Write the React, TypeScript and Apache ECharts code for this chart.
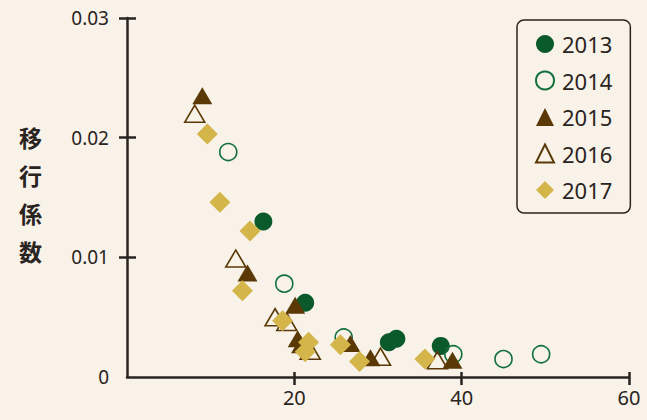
import React, { useEffect, useRef } from "react";
import * as echarts from "echarts";

const seriesNames = ["2013", "2014", "2015", "2016", "2017"];

const data2013: number[][] = [
  [16.3, 0.013], [21.3, 0.0062], [31.3, 0.0029], [32.2, 0.0032], [37.5, 0.0026],
];
const data2014: number[][] = [
  [12.1, 0.0188], [18.8, 0.0078], [25.9, 0.0033], [39.0, 0.0019], [45.0, 0.0015], [49.5, 0.0019],
];
const data2015: number[][] = [
  [9.0, 0.0235], [14.4, 0.0087], [20.1, 0.006], [20.4, 0.0032], [20.8, 0.0027],
  [26.7, 0.0028], [29.1, 0.0016], [38.9, 0.0014],
];
const data2016: number[][] = [
  [8.1, 0.022], [13.0, 0.0099], [17.7, 0.005], [19.1, 0.0046], [21.9, 0.0022],
  [30.3, 0.0017], [37.1, 0.0014],
];
const data2017: number[][] = [
  [9.6, 0.0203], [11.1, 0.0146], [14.7, 0.0122], [13.8, 0.0072], [18.6, 0.0047],
  [21.7, 0.0029], [21.3, 0.0021], [25.5, 0.0027], [27.8, 0.0013], [35.6, 0.0015],
];

const xTicks = [20, 40, 60];
const yTicks = [0.01, 0.02, 0.03];
const yLabels = [0, 0.01, 0.02, 0.03];
const yTitle = "移行係数";

const INK = "#2a2421";
const GREEN = "#0b5a2c";
const GREEN_LINE = "#13703d";
const BROWN = "#5a3906";
const GOLD = "#d4b54a";
const FONT = "'Noto Sans', sans-serif";

export default function App() {
  const ref = useRef<HTMLDivElement>(null);
  useEffect(() => {
    if (!ref.current) return;
    const chart = echarts.init(ref.current, undefined, { renderer: "svg" });
    const axisLine = { show: true, lineStyle: { color: INK, width: 2.5 } };
    const xBase = { type: "value", min: 0, max: 60, interval: 20, position: "bottom", splitLine: { show: false } };
    const yBase = { type: "value", min: 0, max: 0.03, interval: 0.01, position: "left", splitLine: { show: false } };
    chart.setOption({
      animation: false,
      backgroundColor: "#f8f2e9",
      grid: { left: 127, right: 18, top: 18, bottom: 43, containLabel: false },
      xAxis: [
        {
          ...xBase,
          axisLine,
          axisTick: { show: true, inside: false, length: 8, customValues: xTicks, lineStyle: { color: INK, width: 2.5 } },
          axisLabel: { show: true, customValues: xTicks, color: INK, fontSize: 20, fontFamily: FONT, margin: 10 },
        },
        {
          ...xBase,
          axisLine: { show: false },
          axisTick: { show: true, inside: true, length: 5, customValues: xTicks, lineStyle: { color: INK, width: 2.5 } },
          axisLabel: { show: false },
        },
      ],
      yAxis: [
        {
          ...yBase,
          axisLine,
          axisTick: { show: true, inside: false, length: 8, customValues: yTicks, lineStyle: { color: INK, width: 2.5 } },
          axisLabel: { show: true, customValues: yLabels, color: INK, fontSize: 19, fontFamily: FONT, margin: 18 },
        },
        {
          ...yBase,
          axisLine: { show: false },
          axisTick: { show: true, inside: true, length: 9, customValues: yTicks, lineStyle: { color: INK, width: 2.5 } },
          axisLabel: { show: false },
        },
      ],
      legend: {
        orient: "vertical",
        left: 517,
        top: 20,
        padding: [13, 18, 12, 18],
        itemWidth: 18,
        itemHeight: 18,
        itemGap: 14.5,
        textStyle: { color: INK, fontSize: 22, fontFamily: FONT, lineHeight: 22, padding: [0, 0, 0, 3] },
        borderColor: INK,
        borderWidth: 1.5,
        borderRadius: 7,
        data: seriesNames,
      },
      graphic: [
        {
          type: "text",
          left: 19,
          top: 118,
          style: {
            text: yTitle.split("").join("\n"),
            fill: INK,
            font: "bold 23px 'Noto Sans CJK JP'",
            lineHeight: 38,
          },
        },
      ],
      series: [
        {
          name: seriesNames[0], type: "scatter", data: data2013, symbol: "circle", symbolSize: 18,
          itemStyle: { color: GREEN, opacity: 1 },
        },
        {
          name: seriesNames[1], type: "scatter", data: data2014, symbol: "circle", symbolSize: 17,
          itemStyle: { color: "rgba(0,0,0,0)", borderColor: GREEN_LINE, borderWidth: 1.6, opacity: 1 },
        },
        {
          name: seriesNames[2], type: "scatter", data: data2015, symbol: "triangle", symbolSize: [20, 17],
          itemStyle: { color: BROWN, opacity: 1 },
        },
        {
          name: seriesNames[3], type: "scatter", data: data2016, symbol: "triangle", symbolSize: [20, 17],
          itemStyle: { color: "rgba(0,0,0,0)", borderColor: BROWN, borderWidth: 1.6, opacity: 1 },
        },
        {
          name: seriesNames[4], type: "scatter", data: data2017, symbol: "diamond", symbolSize: 21,
          itemStyle: { color: GOLD, opacity: 1 },
        },
      ],
    });
    return () => chart.dispose();
  }, []);
  return (
    <div
      ref={ref}
      style={{ position: "fixed", left: 0, top: 0, width: 647, height: 420 }}
    />
  );
}
